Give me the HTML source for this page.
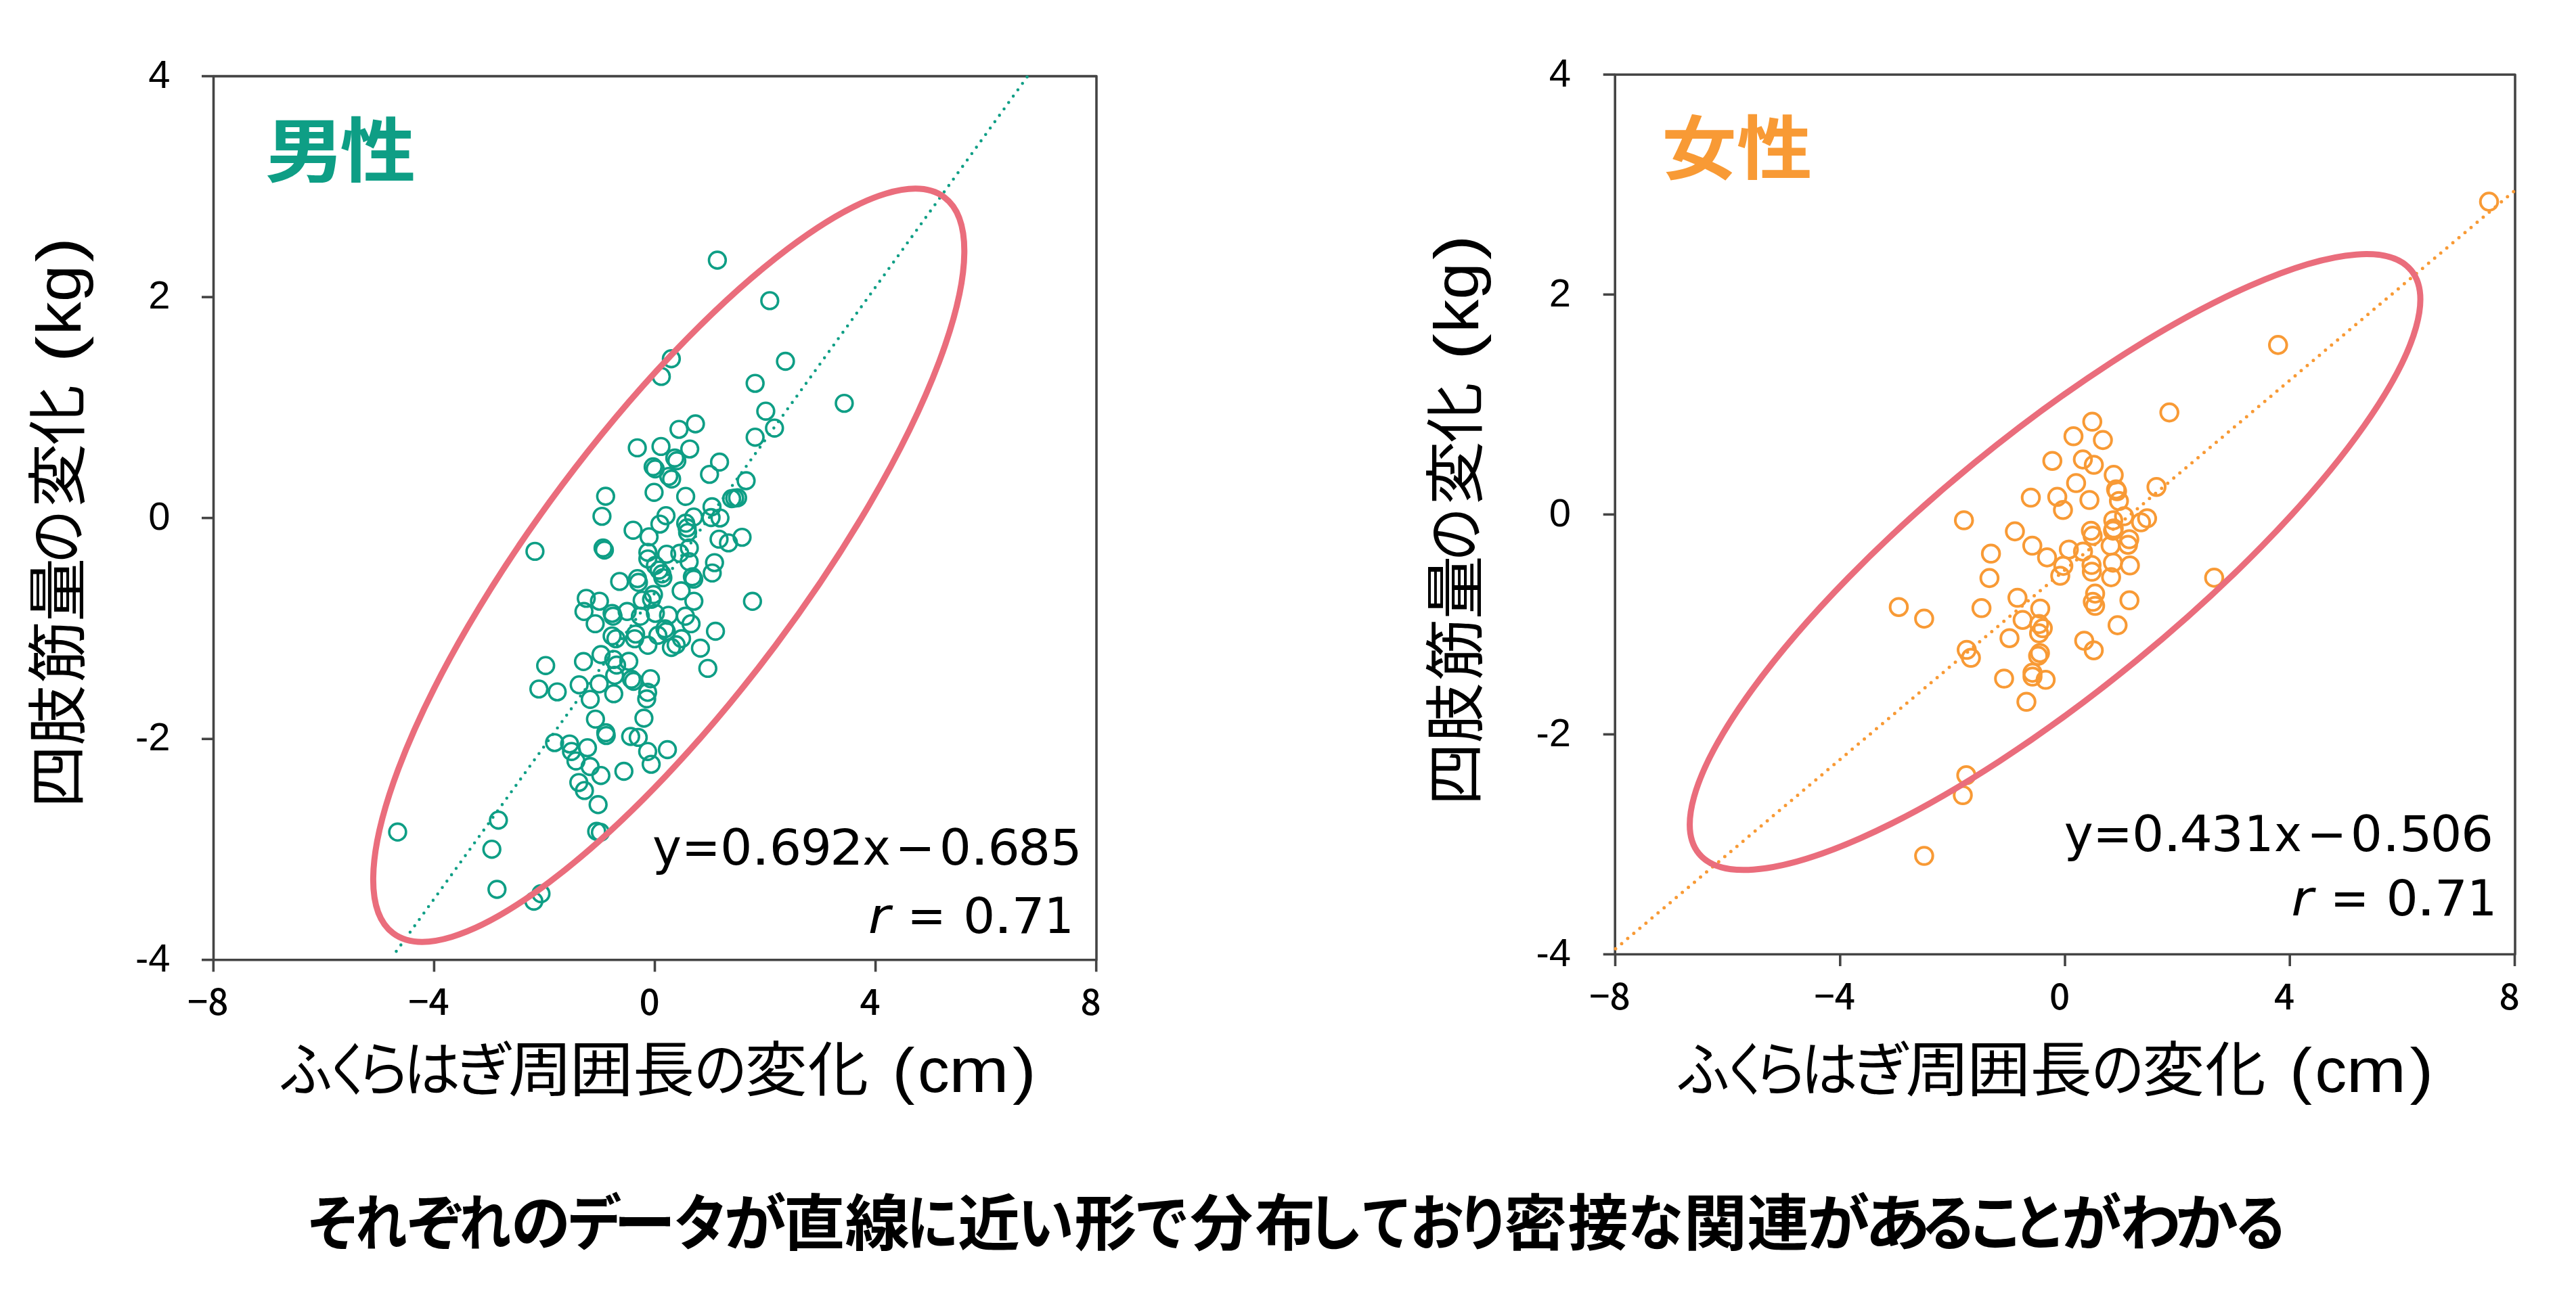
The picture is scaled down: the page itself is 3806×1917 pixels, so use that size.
<!DOCTYPE html>
<html><head><meta charset="utf-8"><title>ふくらはぎ周囲長と四肢筋量の変化</title>
<style>
html,body{margin:0;padding:0;background:#fff;}
body{width:3806px;height:1917px;overflow:hidden;}
svg{display:block;}
.num{font-family:"Liberation Sans",sans-serif;}
.jpn{font-family:"Noto Sans CJK JP",sans-serif;}
.eq{font-family:"DejaVu Sans",sans-serif;}
</style></head><body>
<svg width="3806" height="1917" viewBox="0 0 3806 1917">
<rect width="3806" height="1917" fill="#fff"/>

<g stroke="#444444" stroke-width="3.6" fill="none" stroke-linejoin="round">
<rect x="315.5" y="112.6" width="1304.5" height="1306.2"/>
<line x1="298.0" y1="112.6" x2="315.5" y2="112.6"/>
<line x1="298.0" y1="439.1" x2="315.5" y2="439.1"/>
<line x1="298.0" y1="765.6" x2="315.5" y2="765.6"/>
<line x1="298.0" y1="1092.2" x2="315.5" y2="1092.2"/>
<line x1="298.0" y1="1418.7" x2="315.5" y2="1418.7"/>
<line x1="315.3" y1="1418.8" x2="315.3" y2="1436.3"/>
<line x1="641.4" y1="1418.8" x2="641.4" y2="1436.3"/>
<line x1="967.5" y1="1418.8" x2="967.5" y2="1436.3"/>
<line x1="1293.6" y1="1418.8" x2="1293.6" y2="1436.3"/>
<line x1="1619.7" y1="1418.8" x2="1619.7" y2="1436.3"/>
</g>
<g fill="none" stroke="#0e9e85" stroke-width="3.6">
<circle cx="1059.9" cy="384.5" r="12.4"/>
<circle cx="1137.3" cy="444.4" r="12.4"/>
<circle cx="991.9" cy="530.2" r="12.4"/>
<circle cx="977.1" cy="556.4" r="12.4"/>
<circle cx="1160.5" cy="534.0" r="12.4"/>
<circle cx="1115.7" cy="566.6" r="12.4"/>
<circle cx="1247.4" cy="596.1" r="12.4"/>
<circle cx="1131.4" cy="607.7" r="12.4"/>
<circle cx="1144.3" cy="632.7" r="12.4"/>
<circle cx="1115.7" cy="646.2" r="12.4"/>
<circle cx="1027.5" cy="626.5" r="12.4"/>
<circle cx="1003.2" cy="634.6" r="12.4"/>
<circle cx="941.6" cy="661.9" r="12.4"/>
<circle cx="976.6" cy="659.9" r="12.4"/>
<circle cx="1019.1" cy="663.6" r="12.4"/>
<circle cx="997.0" cy="677.0" r="12.4"/>
<circle cx="1000.0" cy="681.0" r="12.4"/>
<circle cx="965.0" cy="690.0" r="12.4"/>
<circle cx="968.0" cy="693.0" r="12.4"/>
<circle cx="988.1" cy="704.1" r="12.4"/>
<circle cx="992.3" cy="708.0" r="12.4"/>
<circle cx="1063.1" cy="683.0" r="12.4"/>
<circle cx="1048.3" cy="701.1" r="12.4"/>
<circle cx="1102.4" cy="710.5" r="12.4"/>
<circle cx="966.4" cy="727.7" r="12.4"/>
<circle cx="1013.1" cy="733.7" r="12.4"/>
<circle cx="1081.0" cy="737.0" r="12.4"/>
<circle cx="1085.5" cy="736.3" r="12.4"/>
<circle cx="1089.8" cy="735.8" r="12.4"/>
<circle cx="1052.0" cy="749.0" r="12.4"/>
<circle cx="1050.6" cy="765.0" r="12.4"/>
<circle cx="1063.8" cy="765.6" r="12.4"/>
<circle cx="1024.9" cy="764.2" r="12.4"/>
<circle cx="984.0" cy="762.2" r="12.4"/>
<circle cx="975.0" cy="774.6" r="12.4"/>
<circle cx="935.4" cy="783.7" r="12.4"/>
<circle cx="959.0" cy="793.4" r="12.4"/>
<circle cx="1013.1" cy="773.3" r="12.4"/>
<circle cx="1015.2" cy="780.2" r="12.4"/>
<circle cx="1015.9" cy="787.1" r="12.4"/>
<circle cx="1018.5" cy="810.0" r="12.4"/>
<circle cx="1062.4" cy="796.9" r="12.4"/>
<circle cx="1076.3" cy="802.4" r="12.4"/>
<circle cx="1096.4" cy="794.1" r="12.4"/>
<circle cx="894.8" cy="733.5" r="12.4"/>
<circle cx="889.4" cy="763.1" r="12.4"/>
<circle cx="891.0" cy="810.0" r="12.4"/>
<circle cx="893.0" cy="813.0" r="12.4"/>
<circle cx="790.4" cy="814.9" r="12.4"/>
<circle cx="957.2" cy="816.4" r="12.4"/>
<circle cx="957.2" cy="826.1" r="12.4"/>
<circle cx="985.0" cy="819.2" r="12.4"/>
<circle cx="1004.4" cy="817.8" r="12.4"/>
<circle cx="1018.2" cy="830.3" r="12.4"/>
<circle cx="968.3" cy="835.8" r="12.4"/>
<circle cx="973.8" cy="842.7" r="12.4"/>
<circle cx="978.0" cy="848.3" r="12.4"/>
<circle cx="979.4" cy="853.9" r="12.4"/>
<circle cx="1023.0" cy="852.5" r="12.4"/>
<circle cx="1025.0" cy="856.0" r="12.4"/>
<circle cx="1055.7" cy="831.6" r="12.4"/>
<circle cx="1052.3" cy="846.9" r="12.4"/>
<circle cx="915.5" cy="859.4" r="12.4"/>
<circle cx="941.9" cy="855.2" r="12.4"/>
<circle cx="943.3" cy="860.8" r="12.4"/>
<circle cx="965.5" cy="878.8" r="12.4"/>
<circle cx="948.8" cy="887.2" r="12.4"/>
<circle cx="962.7" cy="885.8" r="12.4"/>
<circle cx="1006.4" cy="873.3" r="12.4"/>
<circle cx="1025.2" cy="888.6" r="12.4"/>
<circle cx="866.2" cy="884.4" r="12.4"/>
<circle cx="885.7" cy="888.6" r="12.4"/>
<circle cx="862.8" cy="903.8" r="12.4"/>
<circle cx="904.4" cy="906.6" r="12.4"/>
<circle cx="905.8" cy="910.8" r="12.4"/>
<circle cx="926.6" cy="903.8" r="12.4"/>
<circle cx="946.1" cy="910.8" r="12.4"/>
<circle cx="968.3" cy="906.6" r="12.4"/>
<circle cx="987.7" cy="909.4" r="12.4"/>
<circle cx="1012.7" cy="910.8" r="12.4"/>
<circle cx="1021.0" cy="921.9" r="12.4"/>
<circle cx="879.4" cy="921.9" r="12.4"/>
<circle cx="982.5" cy="929.5" r="12.4"/>
<circle cx="984.5" cy="933.5" r="12.4"/>
<circle cx="972.0" cy="939.0" r="12.4"/>
<circle cx="1007.0" cy="944.0" r="12.4"/>
<circle cx="999.0" cy="953.0" r="12.4"/>
<circle cx="992.0" cy="957.0" r="12.4"/>
<circle cx="1057.1" cy="933.0" r="12.4"/>
<circle cx="904.4" cy="939.9" r="12.4"/>
<circle cx="910.0" cy="944.1" r="12.4"/>
<circle cx="939.1" cy="937.1" r="12.4"/>
<circle cx="937.7" cy="944.1" r="12.4"/>
<circle cx="957.2" cy="953.8" r="12.4"/>
<circle cx="1034.9" cy="958.0" r="12.4"/>
<circle cx="888.0" cy="967.5" r="12.4"/>
<circle cx="1111.8" cy="888.8" r="12.4"/>
<circle cx="806.2" cy="983.7" r="12.4"/>
<circle cx="796.2" cy="1018.4" r="12.4"/>
<circle cx="823.3" cy="1022.6" r="12.4"/>
<circle cx="862.1" cy="977.8" r="12.4"/>
<circle cx="906.8" cy="974.7" r="12.4"/>
<circle cx="911.0" cy="983.0" r="12.4"/>
<circle cx="929.0" cy="977.5" r="12.4"/>
<circle cx="908.2" cy="998.3" r="12.4"/>
<circle cx="933.0" cy="1004.0" r="12.4"/>
<circle cx="936.0" cy="1007.0" r="12.4"/>
<circle cx="855.7" cy="1012.2" r="12.4"/>
<circle cx="885.3" cy="1010.8" r="12.4"/>
<circle cx="872.1" cy="1033.7" r="12.4"/>
<circle cx="906.8" cy="1025.4" r="12.4"/>
<circle cx="879.8" cy="1062.9" r="12.4"/>
<circle cx="895.0" cy="1083.0" r="12.4"/>
<circle cx="895.7" cy="1087.1" r="12.4"/>
<circle cx="931.8" cy="1088.5" r="12.4"/>
<circle cx="943.0" cy="1089.9" r="12.4"/>
<circle cx="819.4" cy="1097.6" r="12.4"/>
<circle cx="841.6" cy="1099.6" r="12.4"/>
<circle cx="868.0" cy="1105.2" r="12.4"/>
<circle cx="844.4" cy="1110.7" r="12.4"/>
<circle cx="1045.8" cy="987.9" r="12.4"/>
<circle cx="961.1" cy="1003.2" r="12.4"/>
<circle cx="956.9" cy="1023.3" r="12.4"/>
<circle cx="955.5" cy="1033.0" r="12.4"/>
<circle cx="951.4" cy="1061.5" r="12.4"/>
<circle cx="956.9" cy="1110.7" r="12.4"/>
<circle cx="986.1" cy="1108.0" r="12.4"/>
<circle cx="851.0" cy="1124.7" r="12.4"/>
<circle cx="871.9" cy="1133.0" r="12.4"/>
<circle cx="887.8" cy="1146.2" r="12.4"/>
<circle cx="855.2" cy="1156.6" r="12.4"/>
<circle cx="863.5" cy="1168.4" r="12.4"/>
<circle cx="883.7" cy="1189.3" r="12.4"/>
<circle cx="881.6" cy="1228.8" r="12.4"/>
<circle cx="887.1" cy="1230.2" r="12.4"/>
<circle cx="921.8" cy="1140.0" r="12.4"/>
<circle cx="962.1" cy="1129.6" r="12.4"/>
<circle cx="587.5" cy="1229.8" r="12.4"/>
<circle cx="736.4" cy="1212.2" r="12.4"/>
<circle cx="726.7" cy="1255.2" r="12.4"/>
<circle cx="734.3" cy="1314.5" r="12.4"/>
<circle cx="788.8" cy="1332.0" r="12.4"/>
<circle cx="799.3" cy="1320.9" r="12.4"/>
</g>
<line x1="585.5" y1="1406.1" x2="1518.1" y2="113.0" stroke="#0e9e85" stroke-width="4.6" stroke-linecap="round" stroke-dasharray="0 11.63"/>
<ellipse cx="988.1" cy="835.5" rx="679.4" ry="197.2" transform="rotate(-53.18 988.1 835.5)" fill="none" stroke="#ea6d7c" stroke-width="9"/>
<text class="num" x="251.5" y="129.7" font-size="58" text-anchor="end">4</text>
<text class="num" x="251.5" y="456.2" font-size="58" text-anchor="end">2</text>
<text class="num" x="251.5" y="782.8" font-size="58" text-anchor="end">0</text>
<text class="num" x="251.5" y="1109.3" font-size="58" text-anchor="end">-2</text>
<text class="num" x="251.5" y="1435.8" font-size="58" text-anchor="end">-4</text>
<text class="jpn" x="307.3" y="1500" font-size="53" font-weight="500" text-anchor="middle">−8</text>
<text class="jpn" x="633.4" y="1500" font-size="53" font-weight="500" text-anchor="middle">−4</text>
<text class="jpn" x="959.5" y="1500" font-size="53" font-weight="500" text-anchor="middle">0</text>
<text class="jpn" x="1285.6" y="1500" font-size="53" font-weight="500" text-anchor="middle">4</text>
<text class="jpn" x="1611.7" y="1500" font-size="53" font-weight="500" text-anchor="middle">8</text>
<text transform="translate(391.58 260.50) scale(1.1174 0.9900)" style="font-family:'Noto Sans CJK JP',sans-serif;font-size:105.00px;font-weight:700" fill="#0e9e85">男</text>
<text transform="translate(502.46 260.50) scale(1.0659 0.9900)" style="font-family:'Noto Sans CJK JP',sans-serif;font-size:105.00px;font-weight:700" fill="#0e9e85">性</text>
<text transform="translate(964.02 1278.20) scale(0.9883 1.0000)" style="font-family:'DejaVu Sans',sans-serif;font-size:73.50px;font-weight:400" fill="#000">y</text>
<text transform="translate(1007.21 1278.20) scale(0.9260 1.0000)" style="font-family:'DejaVu Sans',sans-serif;font-size:73.50px;font-weight:400" fill="#000">=</text>
<text transform="translate(1064.08 1278.20) scale(1.0150 1.0000)" style="font-family:'DejaVu Sans',sans-serif;font-size:73.50px;font-weight:400" fill="#000">0</text>
<text transform="translate(1110.03 1278.20) scale(1.1837 1.0000)" style="font-family:'DejaVu Sans',sans-serif;font-size:73.50px;font-weight:400" fill="#000">.</text>
<text transform="translate(1136.78 1278.20) scale(1.0150 1.0000)" style="font-family:'DejaVu Sans',sans-serif;font-size:73.50px;font-weight:400" fill="#000">6</text>
<text transform="translate(1182.98 1278.20) scale(0.9791 1.0000)" style="font-family:'DejaVu Sans',sans-serif;font-size:73.50px;font-weight:400" fill="#000">9</text>
<text transform="translate(1225.93 1278.20) scale(1.0624 1.0000)" style="font-family:'DejaVu Sans',sans-serif;font-size:73.50px;font-weight:400" fill="#000">2</text>
<text transform="translate(1274.29 1278.20) scale(0.9549 1.0000)" style="font-family:'DejaVu Sans',sans-serif;font-size:73.50px;font-weight:400" fill="#000">x</text>
<text transform="translate(1322.58 1278.20) scale(0.9545 1.0000)" style="font-family:'DejaVu Sans',sans-serif;font-size:73.50px;font-weight:400" fill="#000">−</text>
<text transform="translate(1387.81 1278.20) scale(1.0095 1.0000)" style="font-family:'DejaVu Sans',sans-serif;font-size:73.50px;font-weight:400" fill="#000">0</text>
<text transform="translate(1433.22 1278.20) scale(1.1973 1.0000)" style="font-family:'DejaVu Sans',sans-serif;font-size:73.50px;font-weight:400" fill="#000">.</text>
<text transform="translate(1459.49 1278.20) scale(1.0122 1.0000)" style="font-family:'DejaVu Sans',sans-serif;font-size:73.50px;font-weight:400" fill="#000">6</text>
<text transform="translate(1504.32 1278.20) scale(1.0259 1.0000)" style="font-family:'DejaVu Sans',sans-serif;font-size:73.50px;font-weight:400" fill="#000">8</text>
<text transform="translate(1551.71 1278.20) scale(1.0016 1.0000)" style="font-family:'DejaVu Sans',sans-serif;font-size:73.50px;font-weight:400" fill="#000">5</text>
<text transform="translate(1282.83 1379.00) scale(1.0787 1.0000)" style="font-family:'DejaVu Sans',sans-serif;font-size:73.50px;font-weight:400;font-style:italic" fill="#000">r</text>
<text transform="translate(1340.60 1379.00) scale(0.9282 1.0000)" style="font-family:'DejaVu Sans',sans-serif;font-size:73.50px;font-weight:400" fill="#000">=</text>
<text transform="translate(1422.99 1379.00) scale(1.0122 1.0000)" style="font-family:'DejaVu Sans',sans-serif;font-size:73.50px;font-weight:400" fill="#000">0</text>
<text transform="translate(1467.45 1379.00) scale(1.2500 1.0000)" style="font-family:'DejaVu Sans',sans-serif;font-size:73.50px;font-weight:400" fill="#000">.</text>
<text transform="translate(1494.39 1379.00) scale(1.0566 1.0000)" style="font-family:'DejaVu Sans',sans-serif;font-size:73.50px;font-weight:400" fill="#000">7</text>
<text transform="translate(1543.08 1379.00) scale(0.9302 1.0000)" style="font-family:'DejaVu Sans',sans-serif;font-size:73.50px;font-weight:400" fill="#000">1</text>
<text transform="translate(411.84 1612.30) scale(0.8991 1.0000)" style="font-family:'Noto Sans CJK JP',sans-serif;font-size:88.00px;font-weight:400" fill="#000">ふ</text>
<text transform="translate(480.75 1612.30) scale(0.7867 1.0000)" style="font-family:'Noto Sans CJK JP',sans-serif;font-size:88.00px;font-weight:400" fill="#000">く</text>
<text transform="translate(525.28 1612.30) scale(0.9294 1.0000)" style="font-family:'Noto Sans CJK JP',sans-serif;font-size:88.00px;font-weight:400" fill="#000">ら</text>
<text transform="translate(595.91 1612.30) scale(0.9556 1.0000)" style="font-family:'Noto Sans CJK JP',sans-serif;font-size:88.00px;font-weight:400" fill="#000">は</text>
<text transform="translate(671.96 1612.30) scale(1.0077 1.0000)" style="font-family:'Noto Sans CJK JP',sans-serif;font-size:88.00px;font-weight:400" fill="#000">ぎ</text>
<text transform="translate(750.69 1612.30) scale(1.0836 1.0000)" style="font-family:'Noto Sans CJK JP',sans-serif;font-size:88.00px;font-weight:400" fill="#000">周</text>
<text transform="translate(841.70 1612.30) scale(1.0660 1.0000)" style="font-family:'Noto Sans CJK JP',sans-serif;font-size:88.00px;font-weight:400" fill="#000">囲</text>
<text transform="translate(934.95 1612.30) scale(1.0352 1.0000)" style="font-family:'Noto Sans CJK JP',sans-serif;font-size:88.00px;font-weight:400" fill="#000">長</text>
<text transform="translate(1024.65 1612.30) scale(0.9022 1.0000)" style="font-family:'Noto Sans CJK JP',sans-serif;font-size:88.00px;font-weight:400" fill="#000">の</text>
<text transform="translate(1100.59 1612.30) scale(1.0467 1.0000)" style="font-family:'Noto Sans CJK JP',sans-serif;font-size:88.00px;font-weight:400" fill="#000">変</text>
<text transform="translate(1193.40 1612.30) scale(1.0203 1.0000)" style="font-family:'Noto Sans CJK JP',sans-serif;font-size:88.00px;font-weight:400" fill="#000">化</text>
<text transform="translate(1318.30 1614.30) scale(1.0823 1.0000)" style="font-family:'Liberation Sans','Noto Sans CJK JP',sans-serif;font-size:92.40px;font-weight:400" fill="#000">(</text>
<text transform="translate(1356.06 1614.30) scale(1.0118 1.0000)" style="font-family:'Liberation Sans','Noto Sans CJK JP',sans-serif;font-size:92.40px;font-weight:400" fill="#000">c</text>
<text transform="translate(1402.04 1614.30) scale(1.1534 1.0000)" style="font-family:'Liberation Sans','Noto Sans CJK JP',sans-serif;font-size:92.40px;font-weight:400" fill="#000">m</text>
<text transform="translate(1496.05 1614.30) scale(1.1364 1.0000)" style="font-family:'Liberation Sans','Noto Sans CJK JP',sans-serif;font-size:92.40px;font-weight:400" fill="#000">)</text>
<text transform="translate(117.00 1194.39) rotate(-90) scale(1.0469 1)" style="font-family:'Noto Sans CJK JP',sans-serif;font-size:89.00px;font-weight:400">四</text>
<text transform="translate(117.00 1102.08) rotate(-90) scale(1.0040 1)" style="font-family:'Noto Sans CJK JP',sans-serif;font-size:89.00px;font-weight:400">肢</text>
<text transform="translate(117.00 1009.80) rotate(-90) scale(1.0387 1)" style="font-family:'Noto Sans CJK JP',sans-serif;font-size:89.00px;font-weight:400">筋</text>
<text transform="translate(117.00 919.11) rotate(-90) scale(1.0587 1)" style="font-family:'Noto Sans CJK JP',sans-serif;font-size:89.00px;font-weight:400">量</text>
<text transform="translate(117.00 833.19) rotate(-90) scale(0.8975 1)" style="font-family:'Noto Sans CJK JP',sans-serif;font-size:89.00px;font-weight:400">の</text>
<text transform="translate(117.00 749.72) rotate(-90) scale(1.0612 1)" style="font-family:'Noto Sans CJK JP',sans-serif;font-size:89.00px;font-weight:400">変</text>
<text transform="translate(117.00 657.78) rotate(-90) scale(0.9994 1)" style="font-family:'Noto Sans CJK JP',sans-serif;font-size:89.00px;font-weight:400">化</text>
<text transform="translate(119.00 536.11) rotate(-90) scale(1.2676 1)" style="font-family:'Liberation Sans','Noto Sans CJK JP',sans-serif;font-size:93.45px;font-weight:400">(</text>
<text transform="translate(119.00 495.40) rotate(-90) scale(1.0552 1)" style="font-family:'Liberation Sans','Noto Sans CJK JP',sans-serif;font-size:93.45px;font-weight:400">k</text>
<text transform="translate(119.00 446.14) rotate(-90) scale(1.0534 1)" style="font-family:'Liberation Sans','Noto Sans CJK JP',sans-serif;font-size:93.45px;font-weight:400">g</text>
<text transform="translate(119.00 387.41) rotate(-90) scale(1.1894 1)" style="font-family:'Liberation Sans','Noto Sans CJK JP',sans-serif;font-size:93.45px;font-weight:400">)</text>
<g stroke="#444444" stroke-width="3.6" fill="none" stroke-linejoin="round">
<rect x="2386.2" y="110.2" width="1329.8000000000002" height="1300.3"/>
<line x1="2368.7" y1="110.2" x2="2386.2" y2="110.2"/>
<line x1="2368.7" y1="435.3" x2="2386.2" y2="435.3"/>
<line x1="2368.7" y1="760.4" x2="2386.2" y2="760.4"/>
<line x1="2368.7" y1="1085.4" x2="2386.2" y2="1085.4"/>
<line x1="2368.7" y1="1410.5" x2="2386.2" y2="1410.5"/>
<line x1="2386.5" y1="1410.5" x2="2386.5" y2="1428.0"/>
<line x1="2718.8" y1="1410.5" x2="2718.8" y2="1428.0"/>
<line x1="3051.0" y1="1410.5" x2="3051.0" y2="1428.0"/>
<line x1="3383.2" y1="1410.5" x2="3383.2" y2="1428.0"/>
<line x1="3715.5" y1="1410.5" x2="3715.5" y2="1428.0"/>
</g>
<g fill="none" stroke="#f89a35" stroke-width="4.0">
<circle cx="3677.5" cy="298.1" r="12.8"/>
<circle cx="3365.8" cy="509.9" r="12.8"/>
<circle cx="3205.2" cy="609.6" r="12.8"/>
<circle cx="3091.3" cy="623.3" r="12.8"/>
<circle cx="3063.5" cy="644.8" r="12.8"/>
<circle cx="3107.0" cy="650.4" r="12.8"/>
<circle cx="3032.3" cy="681.2" r="12.8"/>
<circle cx="3077.4" cy="679.1" r="12.8"/>
<circle cx="3093.6" cy="687.0" r="12.8"/>
<circle cx="3067.4" cy="714.0" r="12.8"/>
<circle cx="3000.5" cy="735.5" r="12.8"/>
<circle cx="3039.6" cy="734.4" r="12.8"/>
<circle cx="3048.0" cy="753.8" r="12.8"/>
<circle cx="3087.1" cy="739.0" r="12.8"/>
<circle cx="2901.7" cy="769.0" r="12.8"/>
<circle cx="3123.0" cy="701.9" r="12.8"/>
<circle cx="3126.5" cy="723.4" r="12.8"/>
<circle cx="3127.9" cy="726.0" r="12.8"/>
<circle cx="3130.7" cy="740.5" r="12.8"/>
<circle cx="3186.2" cy="719.7" r="12.8"/>
<circle cx="3138.3" cy="763.0" r="12.8"/>
<circle cx="3122.3" cy="769.0" r="12.8"/>
<circle cx="3163.3" cy="772.0" r="12.8"/>
<circle cx="3172.3" cy="766.0" r="12.8"/>
<circle cx="3123.0" cy="781.0" r="12.8"/>
<circle cx="3122.0" cy="784.4" r="12.8"/>
<circle cx="3089.3" cy="784.5" r="12.8"/>
<circle cx="3091.8" cy="791.9" r="12.8"/>
<circle cx="3118.4" cy="806.6" r="12.8"/>
<circle cx="3146.0" cy="797.0" r="12.8"/>
<circle cx="3144.1" cy="805.2" r="12.8"/>
<circle cx="3056.7" cy="812.2" r="12.8"/>
<circle cx="3077.6" cy="815.2" r="12.8"/>
<circle cx="3121.9" cy="831.6" r="12.8"/>
<circle cx="3146.9" cy="835.8" r="12.8"/>
<circle cx="3090.2" cy="835.0" r="12.8"/>
<circle cx="3090.7" cy="845.0" r="12.8"/>
<circle cx="3048.5" cy="836.4" r="12.8"/>
<circle cx="3044.0" cy="851.0" r="12.8"/>
<circle cx="3119.1" cy="853.1" r="12.8"/>
<circle cx="3095.5" cy="877.4" r="12.8"/>
<circle cx="3092.1" cy="889.5" r="12.8"/>
<circle cx="3095.5" cy="895.5" r="12.8"/>
<circle cx="3146.2" cy="887.3" r="12.8"/>
<circle cx="3271.4" cy="853.9" r="12.8"/>
<circle cx="2977.0" cy="785.4" r="12.8"/>
<circle cx="2941.6" cy="818.3" r="12.8"/>
<circle cx="3002.7" cy="806.5" r="12.8"/>
<circle cx="3024.5" cy="823.9" r="12.8"/>
<circle cx="2939.4" cy="854.4" r="12.8"/>
<circle cx="2980.8" cy="883.5" r="12.8"/>
<circle cx="2927.6" cy="898.8" r="12.8"/>
<circle cx="3014.4" cy="899.5" r="12.8"/>
<circle cx="2988.4" cy="916.2" r="12.8"/>
<circle cx="3012.7" cy="922.4" r="12.8"/>
<circle cx="3018.2" cy="928.5" r="12.8"/>
<circle cx="3012.7" cy="936.1" r="12.8"/>
<circle cx="3128.7" cy="924.1" r="12.8"/>
<circle cx="2969.0" cy="943.2" r="12.8"/>
<circle cx="2905.8" cy="960.5" r="12.8"/>
<circle cx="2912.0" cy="972.3" r="12.8"/>
<circle cx="3011.3" cy="969.4" r="12.8"/>
<circle cx="3014.0" cy="965.2" r="12.8"/>
<circle cx="3003.0" cy="994.4" r="12.8"/>
<circle cx="3003.0" cy="1000.0" r="12.8"/>
<circle cx="3022.4" cy="1004.8" r="12.8"/>
<circle cx="2961.0" cy="1003.0" r="12.8"/>
<circle cx="2994.0" cy="1037.3" r="12.8"/>
<circle cx="3079.4" cy="947.0" r="12.8"/>
<circle cx="3093.5" cy="961.2" r="12.8"/>
<circle cx="2805.4" cy="897.2" r="12.8"/>
<circle cx="2842.9" cy="914.4" r="12.8"/>
<circle cx="2905.2" cy="1145.8" r="12.8"/>
<circle cx="2900.0" cy="1175.3" r="12.8"/>
<circle cx="2842.9" cy="1265.0" r="12.8"/>
</g>
<line x1="2387.0" y1="1402.2" x2="3716.0" y2="281.3" stroke="#f89a35" stroke-width="5.0" stroke-linecap="round" stroke-dasharray="0 11.727"/>
<ellipse cx="3036.3" cy="830.7" rx="680.2" ry="188.9" transform="rotate(-39.32 3036.3 830.7)" fill="none" stroke="#ea6d7c" stroke-width="9"/>
<text class="num" x="2321" y="127.5" font-size="58" text-anchor="end">4</text>
<text class="num" x="2321" y="452.6" font-size="58" text-anchor="end">2</text>
<text class="num" x="2321" y="777.6" font-size="58" text-anchor="end">0</text>
<text class="num" x="2321" y="1102.7" font-size="58" text-anchor="end">-2</text>
<text class="num" x="2321" y="1427.8" font-size="58" text-anchor="end">-4</text>
<text class="jpn" x="2378.5" y="1492" font-size="53" font-weight="500" text-anchor="middle">−8</text>
<text class="jpn" x="2710.8" y="1492" font-size="53" font-weight="500" text-anchor="middle">−4</text>
<text class="jpn" x="3043.0" y="1492" font-size="53" font-weight="500" text-anchor="middle">0</text>
<text class="jpn" x="3375.2" y="1492" font-size="53" font-weight="500" text-anchor="middle">4</text>
<text class="jpn" x="3707.5" y="1492" font-size="53" font-weight="500" text-anchor="middle">8</text>
<text transform="translate(2455.48 256.60) scale(1.0508 0.9900)" style="font-family:'Noto Sans CJK JP',sans-serif;font-size:105.00px;font-weight:700" fill="#f89a35">女</text>
<text transform="translate(2565.97 256.60) scale(1.0628 0.9900)" style="font-family:'Noto Sans CJK JP',sans-serif;font-size:105.00px;font-weight:700" fill="#f89a35">性</text>
<text transform="translate(3049.82 1257.80) scale(0.9883 1.0000)" style="font-family:'DejaVu Sans',sans-serif;font-size:73.50px;font-weight:400" fill="#000">y</text>
<text transform="translate(3092.49 1257.80) scale(0.9414 1.0000)" style="font-family:'DejaVu Sans',sans-serif;font-size:73.50px;font-weight:400" fill="#000">=</text>
<text transform="translate(3150.01 1257.80) scale(1.0095 1.0000)" style="font-family:'DejaVu Sans',sans-serif;font-size:73.50px;font-weight:400" fill="#000">0</text>
<text transform="translate(3195.20 1257.80) scale(1.2245 1.0000)" style="font-family:'DejaVu Sans',sans-serif;font-size:73.50px;font-weight:400" fill="#000">.</text>
<text transform="translate(3220.49 1257.80) scale(1.0371 1.0000)" style="font-family:'DejaVu Sans',sans-serif;font-size:73.50px;font-weight:400" fill="#000">4</text>
<text transform="translate(3267.02 1257.80) scale(1.0176 1.0000)" style="font-family:'DejaVu Sans',sans-serif;font-size:73.50px;font-weight:400" fill="#000">3</text>
<text transform="translate(3316.21 1257.80) scale(0.9144 1.0000)" style="font-family:'DejaVu Sans',sans-serif;font-size:73.50px;font-weight:400" fill="#000">1</text>
<text transform="translate(3359.93 1257.80) scale(0.9395 1.0000)" style="font-family:'DejaVu Sans',sans-serif;font-size:73.50px;font-weight:400" fill="#000">x</text>
<text transform="translate(3408.18 1257.80) scale(0.9545 1.0000)" style="font-family:'DejaVu Sans',sans-serif;font-size:73.50px;font-weight:400" fill="#000">−</text>
<text transform="translate(3472.81 1257.80) scale(1.0095 1.0000)" style="font-family:'DejaVu Sans',sans-serif;font-size:73.50px;font-weight:400" fill="#000">0</text>
<text transform="translate(3519.47 1257.80) scale(1.1293 1.0000)" style="font-family:'DejaVu Sans',sans-serif;font-size:73.50px;font-weight:400" fill="#000">.</text>
<text transform="translate(3544.89 1257.80) scale(1.0392 1.0000)" style="font-family:'DejaVu Sans',sans-serif;font-size:73.50px;font-weight:400" fill="#000">5</text>
<text transform="translate(3590.68 1257.80) scale(0.9959 1.0000)" style="font-family:'DejaVu Sans',sans-serif;font-size:73.50px;font-weight:400" fill="#000">0</text>
<text transform="translate(3636.01 1257.80) scale(1.0286 1.0000)" style="font-family:'DejaVu Sans',sans-serif;font-size:73.50px;font-weight:400" fill="#000">6</text>
<text transform="translate(3385.23 1353.30) scale(1.0787 1.0000)" style="font-family:'DejaVu Sans',sans-serif;font-size:73.50px;font-weight:400;font-style:italic" fill="#000">r</text>
<text transform="translate(3443.00 1353.30) scale(0.9282 1.0000)" style="font-family:'DejaVu Sans',sans-serif;font-size:73.50px;font-weight:400" fill="#000">=</text>
<text transform="translate(3525.39 1353.30) scale(1.0122 1.0000)" style="font-family:'DejaVu Sans',sans-serif;font-size:73.50px;font-weight:400" fill="#000">0</text>
<text transform="translate(3569.85 1353.30) scale(1.2500 1.0000)" style="font-family:'DejaVu Sans',sans-serif;font-size:73.50px;font-weight:400" fill="#000">.</text>
<text transform="translate(3596.79 1353.30) scale(1.0566 1.0000)" style="font-family:'DejaVu Sans',sans-serif;font-size:73.50px;font-weight:400" fill="#000">7</text>
<text transform="translate(3645.48 1353.30) scale(0.9302 1.0000)" style="font-family:'DejaVu Sans',sans-serif;font-size:73.50px;font-weight:400" fill="#000">1</text>
<text transform="translate(2476.34 1612.30) scale(0.8991 1.0000)" style="font-family:'Noto Sans CJK JP',sans-serif;font-size:88.00px;font-weight:400" fill="#000">ふ</text>
<text transform="translate(2545.25 1612.30) scale(0.7867 1.0000)" style="font-family:'Noto Sans CJK JP',sans-serif;font-size:88.00px;font-weight:400" fill="#000">く</text>
<text transform="translate(2589.78 1612.30) scale(0.9294 1.0000)" style="font-family:'Noto Sans CJK JP',sans-serif;font-size:88.00px;font-weight:400" fill="#000">ら</text>
<text transform="translate(2660.41 1612.30) scale(0.9556 1.0000)" style="font-family:'Noto Sans CJK JP',sans-serif;font-size:88.00px;font-weight:400" fill="#000">は</text>
<text transform="translate(2736.46 1612.30) scale(1.0077 1.0000)" style="font-family:'Noto Sans CJK JP',sans-serif;font-size:88.00px;font-weight:400" fill="#000">ぎ</text>
<text transform="translate(2815.19 1612.30) scale(1.0836 1.0000)" style="font-family:'Noto Sans CJK JP',sans-serif;font-size:88.00px;font-weight:400" fill="#000">周</text>
<text transform="translate(2906.20 1612.30) scale(1.0660 1.0000)" style="font-family:'Noto Sans CJK JP',sans-serif;font-size:88.00px;font-weight:400" fill="#000">囲</text>
<text transform="translate(2999.45 1612.30) scale(1.0352 1.0000)" style="font-family:'Noto Sans CJK JP',sans-serif;font-size:88.00px;font-weight:400" fill="#000">長</text>
<text transform="translate(3089.15 1612.30) scale(0.9022 1.0000)" style="font-family:'Noto Sans CJK JP',sans-serif;font-size:88.00px;font-weight:400" fill="#000">の</text>
<text transform="translate(3165.09 1612.30) scale(1.0467 1.0000)" style="font-family:'Noto Sans CJK JP',sans-serif;font-size:88.00px;font-weight:400" fill="#000">変</text>
<text transform="translate(3257.90 1612.30) scale(1.0203 1.0000)" style="font-family:'Noto Sans CJK JP',sans-serif;font-size:88.00px;font-weight:400" fill="#000">化</text>
<text transform="translate(3382.80 1614.30) scale(1.0823 1.0000)" style="font-family:'Liberation Sans','Noto Sans CJK JP',sans-serif;font-size:92.40px;font-weight:400" fill="#000">(</text>
<text transform="translate(3420.56 1614.30) scale(1.0118 1.0000)" style="font-family:'Liberation Sans','Noto Sans CJK JP',sans-serif;font-size:92.40px;font-weight:400" fill="#000">c</text>
<text transform="translate(3466.54 1614.30) scale(1.1534 1.0000)" style="font-family:'Liberation Sans','Noto Sans CJK JP',sans-serif;font-size:92.40px;font-weight:400" fill="#000">m</text>
<text transform="translate(3560.55 1614.30) scale(1.1364 1.0000)" style="font-family:'Liberation Sans','Noto Sans CJK JP',sans-serif;font-size:92.40px;font-weight:400" fill="#000">)</text>
<text transform="translate(2182.00 1190.89) rotate(-90) scale(1.0469 1)" style="font-family:'Noto Sans CJK JP',sans-serif;font-size:89.00px;font-weight:400">四</text>
<text transform="translate(2182.00 1098.58) rotate(-90) scale(1.0040 1)" style="font-family:'Noto Sans CJK JP',sans-serif;font-size:89.00px;font-weight:400">肢</text>
<text transform="translate(2182.00 1006.30) rotate(-90) scale(1.0387 1)" style="font-family:'Noto Sans CJK JP',sans-serif;font-size:89.00px;font-weight:400">筋</text>
<text transform="translate(2182.00 915.61) rotate(-90) scale(1.0587 1)" style="font-family:'Noto Sans CJK JP',sans-serif;font-size:89.00px;font-weight:400">量</text>
<text transform="translate(2182.00 829.69) rotate(-90) scale(0.8975 1)" style="font-family:'Noto Sans CJK JP',sans-serif;font-size:89.00px;font-weight:400">の</text>
<text transform="translate(2182.00 746.22) rotate(-90) scale(1.0612 1)" style="font-family:'Noto Sans CJK JP',sans-serif;font-size:89.00px;font-weight:400">変</text>
<text transform="translate(2182.00 654.28) rotate(-90) scale(0.9994 1)" style="font-family:'Noto Sans CJK JP',sans-serif;font-size:89.00px;font-weight:400">化</text>
<text transform="translate(2184.00 532.61) rotate(-90) scale(1.2676 1)" style="font-family:'Liberation Sans','Noto Sans CJK JP',sans-serif;font-size:93.45px;font-weight:400">(</text>
<text transform="translate(2184.00 491.90) rotate(-90) scale(1.0552 1)" style="font-family:'Liberation Sans','Noto Sans CJK JP',sans-serif;font-size:93.45px;font-weight:400">k</text>
<text transform="translate(2184.00 442.64) rotate(-90) scale(1.0534 1)" style="font-family:'Liberation Sans','Noto Sans CJK JP',sans-serif;font-size:93.45px;font-weight:400">g</text>
<text transform="translate(2184.00 383.91) rotate(-90) scale(1.1894 1)" style="font-family:'Liberation Sans','Noto Sans CJK JP',sans-serif;font-size:93.45px;font-weight:400">)</text>
<text transform="translate(451.98 1840.00) scale(0.8917 1.0000)" style="font-family:'Noto Sans CJK JP',sans-serif;font-size:90.00px;font-weight:700" fill="#000">そ</text>
<text transform="translate(525.45 1840.00) scale(0.8459 1.0000)" style="font-family:'Noto Sans CJK JP',sans-serif;font-size:90.00px;font-weight:700" fill="#000">れ</text>
<text transform="translate(599.84 1840.00) scale(0.9922 1.0000)" style="font-family:'Noto Sans CJK JP',sans-serif;font-size:90.00px;font-weight:700" fill="#000">ぞ</text>
<text transform="translate(678.95 1840.00) scale(0.8459 1.0000)" style="font-family:'Noto Sans CJK JP',sans-serif;font-size:90.00px;font-weight:700" fill="#000">れ</text>
<text transform="translate(754.91 1840.00) scale(0.9796 1.0000)" style="font-family:'Noto Sans CJK JP',sans-serif;font-size:90.00px;font-weight:700" fill="#000">の</text>
<text transform="translate(837.13 1840.00) scale(0.8999 1.0000)" style="font-family:'Noto Sans CJK JP',sans-serif;font-size:90.00px;font-weight:700" fill="#000">デ</text>
<text transform="translate(906.74 1840.00) scale(1.0203 1.0000)" style="font-family:'Noto Sans CJK JP',sans-serif;font-size:90.00px;font-weight:700" fill="#000">ー</text>
<text transform="translate(994.30 1840.00) scale(0.9076 1.0000)" style="font-family:'Noto Sans CJK JP',sans-serif;font-size:90.00px;font-weight:700" fill="#000">タ</text>
<text transform="translate(1069.80 1840.00) scale(1.0227 1.0000)" style="font-family:'Noto Sans CJK JP',sans-serif;font-size:90.00px;font-weight:700" fill="#000">が</text>
<text transform="translate(1157.89 1840.00) scale(1.0012 1.0000)" style="font-family:'Noto Sans CJK JP',sans-serif;font-size:90.00px;font-weight:700" fill="#000">直</text>
<text transform="translate(1248.39 1840.00) scale(1.0590 1.0000)" style="font-family:'Noto Sans CJK JP',sans-serif;font-size:90.00px;font-weight:700" fill="#000">線</text>
<text transform="translate(1340.05 1840.00) scale(0.8505 1.0000)" style="font-family:'Noto Sans CJK JP',sans-serif;font-size:90.00px;font-weight:700" fill="#000">に</text>
<text transform="translate(1415.17 1840.00) scale(1.0187 1.0000)" style="font-family:'Noto Sans CJK JP',sans-serif;font-size:90.00px;font-weight:700" fill="#000">近</text>
<text transform="translate(1503.76 1840.00) scale(0.9237 1.0000)" style="font-family:'Noto Sans CJK JP',sans-serif;font-size:90.00px;font-weight:700" fill="#000">い</text>
<text transform="translate(1587.46 1840.00) scale(1.0246 1.0000)" style="font-family:'Noto Sans CJK JP',sans-serif;font-size:90.00px;font-weight:700" fill="#000">形</text>
<text transform="translate(1675.44 1840.00) scale(0.9147 1.0000)" style="font-family:'Noto Sans CJK JP',sans-serif;font-size:90.00px;font-weight:700" fill="#000">で</text>
<text transform="translate(1758.24 1840.00) scale(1.0324 1.0000)" style="font-family:'Noto Sans CJK JP',sans-serif;font-size:90.00px;font-weight:700" fill="#000">分</text>
<text transform="translate(1854.42 1840.00) scale(0.9869 1.0000)" style="font-family:'Noto Sans CJK JP',sans-serif;font-size:90.00px;font-weight:700" fill="#000">布</text>
<text transform="translate(1930.00 1840.00) scale(0.9365 1.0000)" style="font-family:'Noto Sans CJK JP',sans-serif;font-size:90.00px;font-weight:700" fill="#000">し</text>
<text transform="translate(2010.25 1840.00) scale(0.8491 1.0000)" style="font-family:'Noto Sans CJK JP',sans-serif;font-size:90.00px;font-weight:700" fill="#000">て</text>
<text transform="translate(2082.85 1840.00) scale(0.8952 1.0000)" style="font-family:'Noto Sans CJK JP',sans-serif;font-size:90.00px;font-weight:700" fill="#000">お</text>
<text transform="translate(2152.36 1840.00) scale(0.8854 1.0000)" style="font-family:'Noto Sans CJK JP',sans-serif;font-size:90.00px;font-weight:700" fill="#000">り</text>
<text transform="translate(2222.32 1840.00) scale(1.0284 1.0000)" style="font-family:'Noto Sans CJK JP',sans-serif;font-size:90.00px;font-weight:700" fill="#000">密</text>
<text transform="translate(2316.21 1840.00) scale(0.9941 1.0000)" style="font-family:'Noto Sans CJK JP',sans-serif;font-size:90.00px;font-weight:700" fill="#000">接</text>
<text transform="translate(2405.25 1840.00) scale(0.9129 1.0000)" style="font-family:'Noto Sans CJK JP',sans-serif;font-size:90.00px;font-weight:700" fill="#000">な</text>
<text transform="translate(2487.39 1840.00) scale(1.0431 1.0000)" style="font-family:'Noto Sans CJK JP',sans-serif;font-size:90.00px;font-weight:700" fill="#000">関</text>
<text transform="translate(2581.16 1840.00) scale(1.0154 1.0000)" style="font-family:'Noto Sans CJK JP',sans-serif;font-size:90.00px;font-weight:700" fill="#000">連</text>
<text transform="translate(2669.98 1840.00) scale(1.0275 1.0000)" style="font-family:'Noto Sans CJK JP',sans-serif;font-size:90.00px;font-weight:700" fill="#000">が</text>
<text transform="translate(2754.90 1840.00) scale(1.0870 1.0000)" style="font-family:'Noto Sans CJK JP',sans-serif;font-size:90.00px;font-weight:700" fill="#000">あ</text>
<text transform="translate(2837.46 1840.00) scale(0.9184 1.0000)" style="font-family:'Noto Sans CJK JP',sans-serif;font-size:90.00px;font-weight:700" fill="#000">る</text>
<text transform="translate(2905.40 1840.00) scale(0.9485 1.0000)" style="font-family:'Noto Sans CJK JP',sans-serif;font-size:90.00px;font-weight:700" fill="#000">こ</text>
<text transform="translate(2974.10 1840.00) scale(0.8706 1.0000)" style="font-family:'Noto Sans CJK JP',sans-serif;font-size:90.00px;font-weight:700" fill="#000">と</text>
<text transform="translate(3045.85 1840.00) scale(0.9881 1.0000)" style="font-family:'Noto Sans CJK JP',sans-serif;font-size:90.00px;font-weight:700" fill="#000">が</text>
<text transform="translate(3132.63 1840.00) scale(0.9915 1.0000)" style="font-family:'Noto Sans CJK JP',sans-serif;font-size:90.00px;font-weight:700" fill="#000">わ</text>
<text transform="translate(3213.39 1840.00) scale(1.0386 1.0000)" style="font-family:'Noto Sans CJK JP',sans-serif;font-size:90.00px;font-weight:700" fill="#000">か</text>
<text transform="translate(3301.16 1840.00) scale(0.8692 1.0000)" style="font-family:'Noto Sans CJK JP',sans-serif;font-size:90.00px;font-weight:700" fill="#000">る</text>
</svg></body></html>
